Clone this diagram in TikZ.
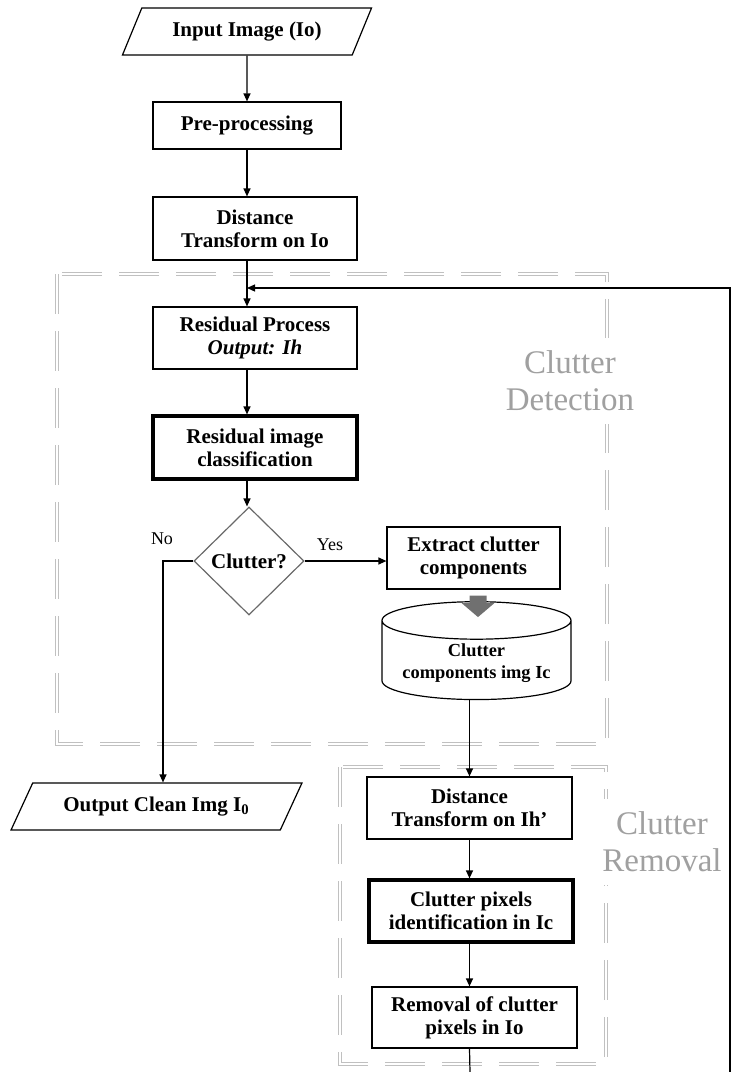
\documentclass[tikz,border=0pt]{standalone}
\usepackage{fontspec}
\setmainfont{Liberation Serif}
\usetikzlibrary{arrows.meta,positioning,calc,shapes.geometric}
\definecolor{framegray}{RGB}{192,192,192}
\definecolor{zonegray}{RGB}{160,160,160}
\definecolor{blockgray}{RGB}{112,112,112}
\definecolor{diagray}{RGB}{105,105,105}

\begin{document}
\begin{tikzpicture}[x=0.5pt,y=-0.5pt,line width=0.6pt,>={Triangle[length=4pt,width=3.5pt]},
  procbox/.style={draw,align=center,inner sep=2pt,font=\fontsize{10.5}{11.5}\selectfont\bfseries},
  keybox/.style={procbox,line width=1.6pt},
  iobox/.style={procbox,trapezium,trapezium stretches=true},
  store/.style={procbox,cylinder,shape border rotate=90,aspect=0.24,
    font=\fontsize{9.2}{10.8}\selectfont\bfseries},
  frame/.style={draw=framegray,line width=0.45pt,double=white,double distance=1.2pt,
    dash pattern=on 20pt off 8.5pt},
  zone/.style={align=center,text=zonegray,fill=white,inner xsep=2pt,inner ysep=6.5pt,
    font=\fontsize{16.5}{18.5}\selectfont},
  tag/.style={font=\fontsize{9}{10}\selectfont}]
  \useasboundingbox (0,0) rectangle (734,1072);
  % zones
  \draw[frame] (57,274) rectangle (607,744);
  \draw[frame] (340,767) rectangle (606,1064);
  \node[zone] (detzone) at (570,381) {Clutter\\Detection};
  \node[zone] (remzone) at (662,842) {Clutter\\Removal};
  % detection part
  \node[iobox,trapezium left angle=62,trapezium right angle=118,
    minimum width=125pt,minimum height=23.5pt] (inp) at (247,31.5) {Input Image (Io)};
  \node[procbox,minimum width=94pt,minimum height=23.5pt] (pre) at (247,125.5) {Pre-processing};
  \node[procbox,minimum width=102pt,minimum height=31.5pt] (dto) at (255,228.5)
    {Distance\\Transform on Io};
  \node[procbox,minimum width=102pt,minimum height=31pt] (res) at (255,338)
    {Residual Process\\\textit{Output: Ih}};
  \node[keybox,minimum width=102pt,minimum height=31.5pt] (cls) at (255,447.5)
    {Residual image\\classification};
  \node[procbox,diamond,draw=diagray,inner sep=0.5pt,
    minimum width=55pt,minimum height=54pt] (clu) at (249,561) {Clutter?};
  \node[procbox,minimum width=86.5pt,minimum height=31pt] (ext) at (473.5,558)
    {Extract clutter\\components};
  \node[store,minimum width=94.5pt,minimum height=47pt] (cyl) at (476.5,663)
    {Clutter\\components img Ic};
  \node[iobox,trapezium left angle=58,trapezium right angle=122,
    minimum width=145.5pt,minimum height=23.5pt] (out) at (156.5,806.5)
    {Output Clean Img I\textsubscript{0}};
  % removal part
  \node[procbox,minimum width=102.5pt,minimum height=31pt] (dti) at (469.5,808)
    {Distance\\Transform on Ih'};
  \node[keybox,minimum width=102pt,minimum height=31pt] (cpi) at (471,911)
    {Clutter pixels\\identification in Ic};
  \node[procbox,minimum width=102.5pt,minimum height=30.5pt] (rem) at (474.5,1017.5)
    {Removal of clutter\\pixels in Io};
  \node[tag] (yes) at (330,545) {Yes};
  \node[tag] (no) at (162,539) {No};
  \coordinate (loopin) at (247,288);
  \coordinate (loopcut) at (730,1072);
  \coordinate (remcut) at (470,1072);
  \coordinate (nobend) at (163,561);
  % connectors
  \draw[->] (inp) -- (pre);
  \foreach \a/\b in {pre/dto,dto/res,res/cls,cls/clu}
    \draw[->] (\a.south -| pre.south) -- (\b.north -| pre.south);
  \draw[->] (clu.east) -- (clu.east -| ext.west);
  \draw[->] (clu.west) -- (nobend) -- (nobend |- out.north);
  \draw[blockgray,line width=8.5pt,-{Triangle[length=7pt,width=16pt]}]
    ($(ext.south)+(4.5,6)$) -- ($(cyl.north)+(1.5,16)$);
  \foreach \a/\b in {cyl/dti,dti/cpi,cpi/rem}
    \draw[->] (\a.south -| dti.south) -- (\b.north -| dti.south);
  \draw (rem.south -| dti.south) -- (remcut);
  \draw[->] (loopcut) |- (loopin);
\end{tikzpicture}
\end{document}
